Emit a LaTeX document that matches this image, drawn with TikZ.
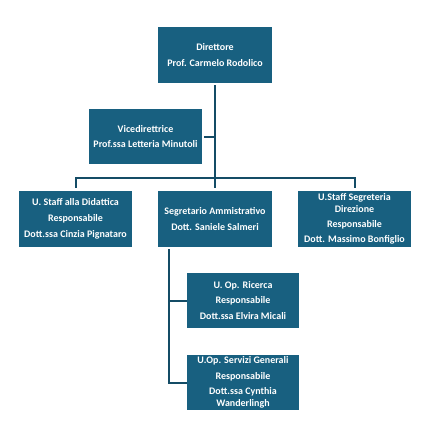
\documentclass[tikz,border=0pt]{standalone}
\usepackage{fontspec}
\setmainfont{Carlito}
\usetikzlibrary{positioning, calc}
\definecolor{cBox}{RGB}{24,96,128}
\definecolor{cLine}{RGB}{20,76,102}
\tikzset{
	unit/.style={rectangle, minimum width=113pt, minimum height=56pt, inner sep=0pt, align=center, fill=cBox, text=white, font=\bfseries\fontsize{10}{11.8}\selectfont},
	link/.style={draw=cLine, line width=2pt},
}

\begin{document}
\begin{tikzpicture}[x=1pt, y=-1pt]
	\useasboundingbox (0,0) rectangle (434,424);
	% top levels
	\node[unit, minimum width=114pt] (dir) at (215,55) {Direttore\\[4pt]Prof. Carmelo Rodolico};
	\node[unit, minimum height=55pt] (vice) at (145.5,136.5) {Vicedirettrice\\[4pt]Prof.ssa Letteria Minutoli};
	% staff row
	\node[unit] (did) at (75.5,219) {U. Staff alla Didattica\\[4pt]Responsabile\\[4pt]Dott.ssa Cinzia Pignataro};
	\node[unit, minimum width=114pt] (segr) at (215,219) {Segretario Ammistrativo\\[4pt]Dott. Saniele Salmeri};
	\node[unit] (segdir) at (354.5,219) {U.Staff Segreteria\\Direzione\\[3.5pt]Responsabile\\[3.5pt]Dott. Massimo Bonfiglio};
	% operative units
	\node[unit, minimum width=112pt, minimum height=55pt] (ric) at (243,300.5) {U. Op. Ricerca\\[4pt]Responsabile\\[4pt]Dott.ssa Elvira Micali};
	\node[unit, minimum width=112pt, minimum height=55pt] (serv) at (243,382.5) {U.Op. Servizi Generali\\[3.5pt]Responsabile\\[3.5pt]Dott.ssa Cynthia\\Wanderlingh};
	% connectors
	\coordinate (bar) at (215,178);
	\draw[link] ($(dir.south)+(0,2)$) -- ($(segr.north)+(0,-3)$);
	\draw[link] ($(vice.east)+(2,0)$) -- (vice.east -| dir.south);
	\draw[link] ($(did.north)+(0,-3)$) |- (bar) -| ($(segdir.north)+(0,-3)$);
	\coordinate (foot) at ($(segr.south west)+(11,2)$);
	\draw[link] (foot) |- (serv.west);
	\draw[link] (foot |- ric.west) -- (ric.west);
\end{tikzpicture}
\end{document}
